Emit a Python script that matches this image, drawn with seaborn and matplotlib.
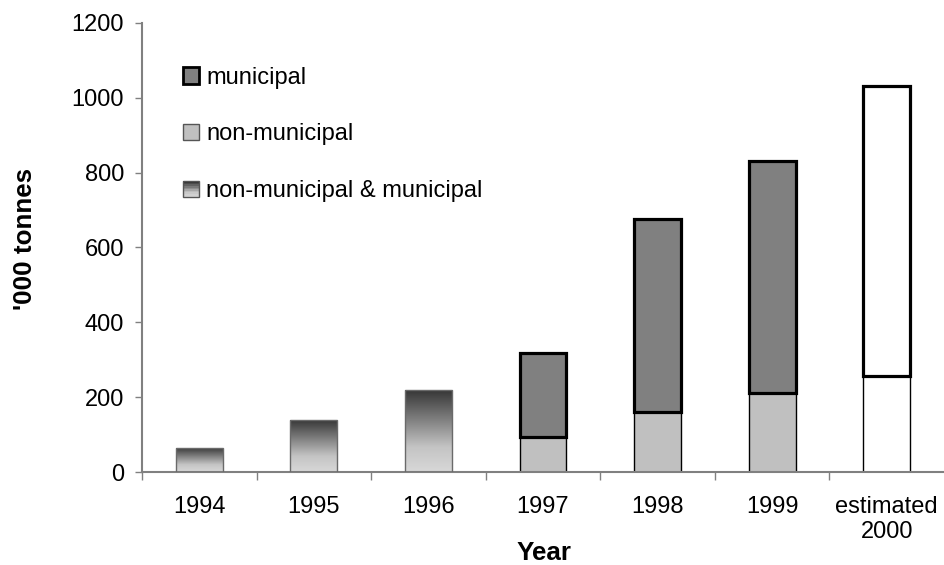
import numpy as np
import pandas as pd
import matplotlib
matplotlib.use('Agg')
import matplotlib.pyplot as plt
import seaborn as sns
from matplotlib.patches import Patch, Rectangle
from matplotlib.legend_handler import HandlerBase
from matplotlib.colors import LinearSegmentedColormap

# data ('000 tonnes)
years = ['1994', '1995', '1996', '1997', '1998', '1999', 'estimated\n2000']
combined_years = years[:3]
combined = [65, 140, 220]          # non-municipal & municipal
split_years = years[3:]
non_municipal = [94, 160, 211, 257]
municipal = [224, 516, 620, 775]

grad_cmap = LinearSegmentedColormap.from_list(
    'grad', [(0, '#d8d8d8'), (0.3, '#c4c4c4'), (1, '#343434')])


class GradientPatch(Patch):
    pass


class GradientHandler(HandlerBase):
    def create_artists(self, legend, orig_handle, xdescent, ydescent,
                       width, height, fontsize, trans):
        n = 10
        arts = []
        for i in range(n):
            arts.append(Rectangle((-xdescent, -ydescent + i * height / n), width, height / n,
                                  facecolor=grad_cmap(i / (n - 1)), edgecolor='none',
                                  transform=trans))
        arts.append(Rectangle((-xdescent, -ydescent), width, height, facecolor='none',
                              edgecolor='#555555', linewidth=1, transform=trans))
        return arts


sns.set_theme(style='white')
plt.rcParams['font.family'] = ['Liberation Sans', 'DejaVu Sans']
plt.rcParams['text.color'] = 'black'
plt.rcParams['axes.labelcolor'] = 'black'

fig = plt.figure(figsize=(9.44, 5.65), dpi=100)
ax = fig.add_axes([0.1504, 0.1646, 0.8496, 0.7947])

bar_w = 0.41

# 1994-1996: combined totals, gradient filled
df_c = pd.DataFrame({'year': combined_years, 'tonnes': combined})
sns.barplot(data=df_c, x='year', y='tonnes', order=years, width=bar_w, color='white',
            saturation=1, edgecolor='#6a6a6a', linewidth=1, errorbar=None, ax=ax)
grad = np.linspace(0, 1, 256).reshape(-1, 1)
for p in list(ax.containers[-1]):
    p.set_facecolor('none')
    p.set_zorder(3)
    x0 = p.get_x()
    im = ax.imshow(grad, extent=[x0, x0 + p.get_width(), 0, p.get_height()],
                   origin='lower', aspect='auto', cmap=grad_cmap, zorder=2)
    im.set_clip_path(p)

# 1997-2000: non-municipal at the bottom
df_n = pd.DataFrame({'year': split_years, 'tonnes': non_municipal})
sns.barplot(data=df_n, x='year', y='tonnes', order=years, width=bar_w, color='#c0c0c0',
            saturation=1, edgecolor='black', linewidth=1, errorbar=None, ax=ax)
ax.containers[-1][-1].set_facecolor('white')

# municipal stacked on top
pos = [years.index(y) for y in split_years]
top_colors = ['#808080'] * 3 + ['white']
ax.bar(pos, municipal, bottom=non_municipal, width=bar_w, color=top_colors,
       edgecolor='black', linewidth=2.3, zorder=3)

ax.set_xlim(-0.5, len(years) - 0.5)
ax.set_ylim(0, 1200)
ax.set_yticks(range(0, 1201, 200))
ax.set_xticks(range(len(years)))
ax.set_xticklabels(years)
ax.set_xticks(np.arange(-0.5, len(years) - 0.5, 1), minor=True)

for side in ['top', 'right']:
    ax.spines[side].set_visible(False)
for side in ['left', 'bottom']:
    ax.spines[side].set_color('#808080')
    ax.spines[side].set_linewidth(1.5)

ax.tick_params(axis='y', which='major', left=True, length=5, width=1, color='#808080',
               direction='out', labelsize=17, pad=8, labelcolor='black')
ax.tick_params(axis='x', which='major', bottom=False, labelsize=17, pad=11, labelcolor='black')
ax.tick_params(axis='x', which='minor', bottom=True, length=6, width=1, color='#808080',
               direction='out')

ax.set_xlabel('Year', fontsize=18.7, fontweight='bold')
ax.set_ylabel("'000 tonnes", fontsize=18.7, fontweight='bold')
ax.xaxis.set_label_coords(0.501, -0.153)
ax.yaxis.set_label_coords(-0.131, 0.519)

handles = [Patch(facecolor='#808080', edgecolor='black', linewidth=2),
           Patch(facecolor='#c0c0c0', edgecolor='#555555', linewidth=1),
           GradientPatch()]
labels = ['municipal', 'non-municipal', 'non-municipal & municipal']
ax.legend(handles, labels, loc='upper left', bbox_to_anchor=(0.051, 0.903),
          frameon=False, fontsize=17, handlelength=0.7, handleheight=0.7,
          handletextpad=0.3, labelspacing=1.48, borderpad=0, borderaxespad=0,
          handler_map={GradientPatch: GradientHandler()})

fig.savefig('out.png', dpi=100)
